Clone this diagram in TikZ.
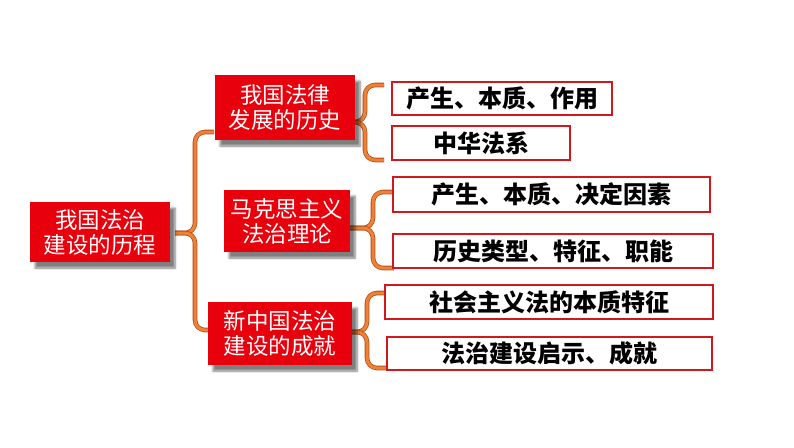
\documentclass[tikz,border=0pt]{standalone}
\usepackage{fontspec}
\setmainfont{Noto Sans CJK SC}
\usetikzlibrary{positioning,shadows.blur,backgrounds}

\definecolor{boxred}{RGB}{232,0,12}
\definecolor{leafred}{RGB}{208,24,30}
\definecolor{braceorange}{RGB}{240,128,52}
\definecolor{braceedge}{RGB}{176,82,34}

\tikzset{
  topic/.style={fill=boxred, text=white, align=center, inner sep=0pt,
    font=\fontsize{22.5}{25}\selectfont,
    blur shadow={shadow xshift=5pt, shadow yshift=-6pt, shadow blur steps=6, shadow opacity=50}},
  leaf/.style={draw=leafred, line width=2pt, fill=white, inner sep=0pt,
    font=\bfseries\fontsize{24}{26}\selectfont},
  curly/.style={draw=braceedge, line width=0.8pt, double=braceorange,
    double distance=3pt, rounded corners=10pt}
}

\begin{document}
\begin{tikzpicture}[x=1pt,y=-1pt]
\useasboundingbox (0,0) rectangle (794,447);

% main topic and the three parts
\node[topic, minimum width=140pt, minimum height=60pt] (root) at (100,232) {我国法治\\建设的历程};
\node[topic, minimum width=140pt, minimum height=65pt] (hist) at (285,107.5) {我国法律\\发展的历史};
\node[topic, minimum width=126pt, minimum height=62pt] (marx) at (287,221) {马克思主义\\法治理论};
\node[topic, minimum width=144pt, minimum height=63pt] (newc) at (280,333.5) {新中国法治\\建设的成就};

% leaves
\node[leaf, minimum width=220pt, minimum height=33pt] (h1) at (502,98.5) {产生、本质、作用};
\node[leaf, minimum width=178pt, minimum height=34pt, below=9pt of h1.south west, anchor=north west] (h2) {中华法系};
\node[leaf, minimum width=317pt, minimum height=35pt] (m1) at (551.5,194.5) {产生、本质、决定因素};
\node[leaf, minimum width=320pt, minimum height=34pt] (m2) at (553,251) {历史类型、特征、职能};
\node[leaf, minimum width=328pt, minimum height=34pt] (n1) at (549,302) {社会主义法的本质特征};
\node[leaf, minimum width=325pt, minimum height=33pt] (n2) at (549.5,353.5) {法治建设启示、成就};

% brace ends
\coordinate (r-tip) at (175,233);
\coordinate (r-top) at (214,132);
\coordinate (r-bot) at (210,330);
\coordinate (h-tip) at (355,122);
\coordinate (h-top) at (384,85);
\coordinate (h-bot) at (384,160);
\coordinate (m-tip) at (348,228);
\coordinate (m-top) at (394,192);
\coordinate (m-bot) at (394,268);
\coordinate (n-tip) at (345,332);
\coordinate (n-top) at (386,293);
\coordinate (n-bot) at (386,368);

\begin{scope}[on background layer]
\draw[curly] (r-top) -| (195,233) -- (r-tip);
\draw[curly] (r-bot) -| (195,233) -- (r-tip);
\draw[curly] (h-top) -| (365,122) -- (h-tip);
\draw[curly] (h-bot) -| (365,122) -- (h-tip);
\draw[curly] (m-top) -| (373,228) -- (m-tip);
\draw[curly] (m-bot) -| (373,228) -- (m-tip);
\draw[curly] (n-top) -| (367,332) -- (n-tip);
\draw[curly] (n-bot) -| (367,332) -- (n-tip);
\end{scope}
\end{tikzpicture}
\end{document}
